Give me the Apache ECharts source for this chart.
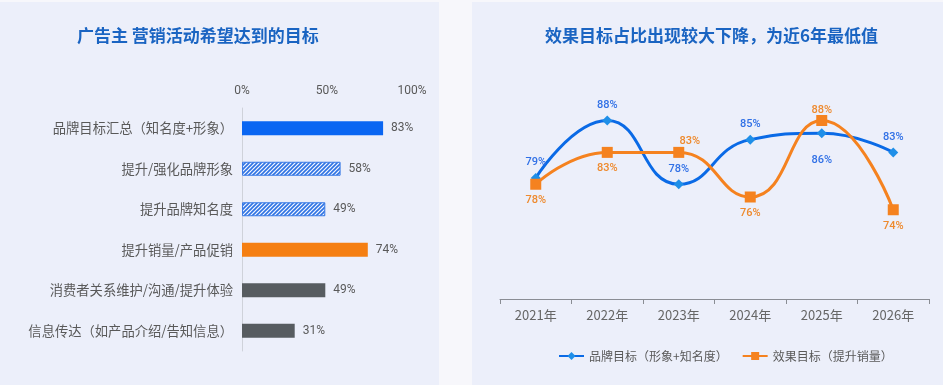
<!DOCTYPE html>
<html>
<head>
<meta charset="utf-8">
<script src="https://cdn.jsdelivr.net/npm/echarts@6/dist/echarts.min.js"></script>
<style>
html,body{margin:0;padding:0;background:#f7f7fb;}
#main{width:943px;height:385px;}
</style>
</head>
<body>
<div id="main"></div>
<script>
// ---- data ----
const barCategories = ['品牌目标汇总（知名度+形象）', '提升/强化品牌形象', '提升品牌知名度', '提升销量/产品促销', '消费者关系维护/沟通/提升体验', '信息传达（如产品介绍/告知信息）'];
const barValues = [83, 58, 49, 74, 49, 31];
const barTickLabels = ['0%', '50%', '100%'];
const years = ['2021年', '2022年', '2023年', '2024年', '2025年', '2026年'];
const brandName = '品牌目标（形象+知名度）';
const salesName = '效果目标（提升销量）';
const brandValues = [79, 88, 78, 85, 86, 83];
const salesValues = [78, 83, 83, 76, 88, 74];

// ---- label placement (style, not data) ----
const brandLabelPos = ['top', 'top', 'top', 'top', 'bottom', 'top'];
const brandLabelOffset = [[0,0],[0,0],[0,0],[0,0],[0,11],[0,0]];
const salesLabelPos = ['bottom', 'bottom', 'top', 'bottom', 'top', 'bottom'];
const salesLabelOffset = [[0,0],[0,0],[11,5],[0,0],[0,6],[0,0]];

// hatch pattern
function makeHatch() {
  const c = document.createElement('canvas');
  c.width = 4; c.height = 4;
  const g = c.getContext('2d');
  g.fillStyle = '#f4f7ff';
  g.fillRect(0, 0, 4, 4);
  g.strokeStyle = '#2f73e3';
  g.lineWidth = 1.6;
  g.beginPath();
  g.moveTo(-1, 5); g.lineTo(5, -1);
  g.moveTo(-1, 1); g.lineTo(1, -1);
  g.moveTo(3, 5); g.lineTo(5, 3);
  g.stroke();
  return c;
}
const hatch = makeHatch();

const barStyles = [
  { color: '#0a66f2' },
  { color: { image: hatch, repeat: 'repeat' }, borderColor: '#3a7be6', borderWidth: 1 },
  { color: { image: hatch, repeat: 'repeat' }, borderColor: '#3a7be6', borderWidth: 1 },
  { color: '#f57f12' },
  { color: '#575c60' },
  { color: '#575c60' }
];

const chart = echarts.init(document.getElementById('main'), null, { renderer: 'canvas' });

const cjk = "'Noto Sans CJK SC', 'Noto Sans', sans-serif";

chart.setOption({
  backgroundColor: '#f7f7fb',
  animation: false,
  graphic: [
    { type: 'rect', z: -100, silent: true, shape: { x: 0, y: 2, width: 439, height: 383 }, style: { fill: '#eceffa' } },
    { type: 'rect', z: -100, silent: true, shape: { x: 472, y: 2, width: 471, height: 383 }, style: { fill: '#eceffa' } }
  ],
  title: [
    { text: '广告主 营销活动希望达到的目标', left: 77, top: 27, padding: 0,
      textStyle: { fontSize: 17, fontWeight: 'bold', color: '#1a64c2', fontFamily: cjk } },
    { text: '效果目标占比出现较大下降，为近6年最低值', left: 545, top: 27, padding: 0,
      textStyle: { fontSize: 17, fontWeight: 'bold', color: '#1a64c2', fontFamily: cjk } }
  ],
  legend: {
    left: 553, top: 345, itemWidth: 25, itemHeight: 10, itemGap: 14,
    textStyle: { fontSize: 12, color: '#595959', fontFamily: cjk },
    data: [brandName, salesName]
  },
  grid: [
    { left: 242, top: 108, width: 170, height: 243, containLabel: false },
    { left: 500, top: 44, width: 429, height: 255, containLabel: false }
  ],
  xAxis: [
    {
      gridIndex: 0, type: 'value', position: 'top', min: 0, max: 100, interval: 50,
      axisLine: { show: false }, axisTick: { show: false }, splitLine: { show: false },
      axisLabel: {
        margin: 11, color: '#595959', fontSize: 12, fontFamily: 'Roboto, sans-serif',
        formatter: function (v) { return barTickLabels[Math.round(v / 50)] || ''; }
      }
    },
    {
      gridIndex: 1, type: 'category', data: years, boundaryGap: true,
      axisLine: { show: true, lineStyle: { color: '#8a8d94', width: 1 } },
      axisTick: { show: true, length: 5, lineStyle: { color: '#8a8d94' } },
      axisLabel: { margin: 10, color: '#666666', fontSize: 13, fontFamily: cjk }
    }
  ],
  yAxis: [
    {
      gridIndex: 0, type: 'category', data: barCategories, inverse: true,
      axisLine: { show: true, lineStyle: { color: '#cfd2da', width: 1 } },
      axisTick: { show: false },
      axisLabel: { margin: 9, color: '#595959', fontSize: 13.3, fontFamily: cjk }
    },
    {
      gridIndex: 1, type: 'value', min: 60, max: 100, show: false,
      splitLine: { show: false }
    }
  ],
  series: [
    {
      type: 'bar', xAxisIndex: 0, yAxisIndex: 0, barWidth: 14,
      data: barValues.map((v, i) => ({ value: v, itemStyle: barStyles[i] })),
      label: {
        show: true, position: 'right', distance: 8, color: '#595959', fontSize: 12,
        fontFamily: 'Roboto, sans-serif', formatter: '{c}%'
      }
    },
    {
      name: brandName, type: 'line', xAxisIndex: 1, yAxisIndex: 1, smooth: true,
      symbol: 'diamond', symbolSize: 10, z: 3,
      lineStyle: { color: '#0a6ae6', width: 3 },
      itemStyle: { color: '#1f8fe8' },
      label: { show: true, color: '#3070e6', fontSize: 11, fontWeight: 500, fontFamily: 'Roboto, sans-serif', formatter: '{c}%' },
      data: brandValues.map((v, i) => ({ value: v, label: { position: brandLabelPos[i], offset: brandLabelOffset[i] } }))
    },
    {
      name: salesName, type: 'line', xAxisIndex: 1, yAxisIndex: 1, smooth: true,
      symbol: 'rect', symbolSize: 11, z: 4,
      lineStyle: { color: '#f5821f', width: 3 },
      itemStyle: { color: '#f5821f' },
      label: { show: true, color: '#ee8a2e', fontSize: 11, fontWeight: 500, fontFamily: 'Roboto, sans-serif', formatter: '{c}%' },
      data: salesValues.map((v, i) => ({ value: v, label: { position: salesLabelPos[i], offset: salesLabelOffset[i] } }))
    }
  ]
});
</script>
</body>
</html>
